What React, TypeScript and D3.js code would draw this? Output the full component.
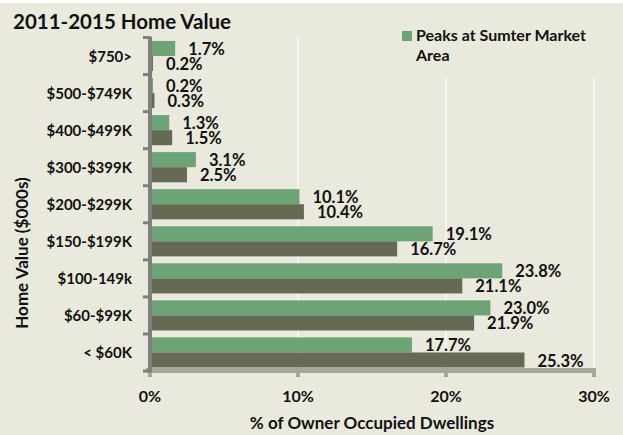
import React from "react";
import * as d3 from "d3";

const categories = ["$750>", "$500-$749K", "$400-$499K", "$300-$399K", "$200-$299K", "$150-$199K", "$100-149k", "$60-$99K", "< $60K"];
const peaksValues = [1.7, 0.2, 1.3, 3.1, 10.1, 19.1, 23.8, 23.0, 17.7];
const otherValues = [0.2, 0.3, 1.5, 2.5, 10.4, 16.7, 21.1, 21.9, 25.3];
const xTicks = [0, 10, 20, 30];
const seriesNames = ["Peaks at Sumter Market Area", "Comparison"];

const W = 623;
const H = 435;
const BG = "#e9e9dd";
const GREEN = "#6ca476";
const DARK = "#666a54";
const FONT = "Lato, 'Open Sans', sans-serif";

export default function App() {
  const x = d3.scaleLinear().domain([0, 30]).range([150, 594]);
  const y = d3.scaleBand<string>().domain(categories).range([37.5, 371]).padding(0);
  const inner = d3.scaleBand<string>().domain(seriesNames).range([0, y.bandwidth()]).paddingInner(0).paddingOuter(0.23);
  const bh = inner.bandwidth();
  const series = [
    { name: seriesNames[0], values: peaksValues, color: GREEN },
    { name: seriesNames[1], values: otherValues, color: DARK },
  ];
  const boundaries = categories.map((c) => y(c) as number).concat([y.range()[1]]);
  const plotTop = y.range()[0];
  const plotBottom = y.range()[1];

  return (
    <svg width={W} height={H} style={{ position: "absolute", left: 0, top: 0 }} fontFamily={FONT}>
      <rect x={0} y={0} width={W} height={H} fill={BG} />
      <rect x={0} y={0} width={W} height={3} fill="#ffffff" />
      {/* gridlines */}
      {xTicks.filter((t) => t > 0).map((t) => (
        <line key={"g" + t} x1={x(t)} x2={x(t)} y1={plotTop} y2={plotBottom} stroke="#ffffff" strokeWidth={1.2} />
      ))}
      {/* legend box covering gridlines */}
      <rect x={392} y={18} width={228} height={60} fill={BG} />
      <rect x={402} y={31} width={10} height={10} fill={GREEN} />
      <text x={416} y={40.5} fontSize={16} fontWeight={700} fill="#111">Peaks at Sumter Market</text>
      <text x={416} y={60.5} fontSize={16} fontWeight={700} fill="#111">Area</text>
      {/* title */}
      <text x={13} y={28.5} fontSize={20.5} fontWeight={700} fill="#111">2011-2015 Home Value</text>
      {/* bars */}
      {series.map((s) =>
        s.values.map((v, i) => {
          const yy = (y(categories[i]) as number) + (inner(s.name) as number);
          return (
            <g key={s.name + i}>
              <rect x={x(0)} y={yy} width={x(v) - x(0)} height={bh} fill={s.color} />
            </g>
          );
        })
      )}
      {/* x axis */}
      <line x1={146} x2={596} y1={370.5} y2={370.5} stroke="#a7a795" strokeWidth={5} />
      {xTicks.map((t) => (
        <line key={"xt" + t} x1={x(t)} x2={x(t)} y1={370} y2={377} stroke="#a7a795" strokeWidth={4} />
      ))}
      {xTicks.map((t) => (
        <text key={"xl" + t} x={x(t)} y={401.5} textAnchor="middle" fontSize={16} fontWeight={700} fill="#111">
          {t + "%"}
        </text>
      ))}
      {/* y axis */}
      <line x1={150} x2={150} y1={plotTop - 1} y2={plotBottom + 1.5} stroke="#808080" strokeWidth={4} />
      {boundaries.map((b, i) => (
        <line key={"yt" + i} x1={143} x2={150} y1={b} y2={b} stroke="#808080" strokeWidth={3} />
      ))}
      {categories.map((c) => (
        <text key={"yl" + c} x={132} y={(y(c) as number) + y.bandwidth() / 2 + 5.5} textAnchor="end" fontSize={15} fontWeight={700} fill="#111">
          {c}
        </text>
      ))}
      {/* value labels */}
      {series.map((s) =>
        s.values.map((v, i) => {
          const yy = (y(categories[i]) as number) + (inner(s.name) as number) + bh / 2;
          return (
            <text key={"vl" + s.name + i} x={x(v) + 13} y={yy + 6.5} fontSize={16.5} fontWeight={700} fill="#111">
              {v.toFixed(1) + "%"}
            </text>
          );
        })
      )}
      {/* axis titles */}
      <text x={x(15)} y={429} textAnchor="middle" fontSize={17} fontWeight={700} fill="#111">% of Owner Occupied Dwellings</text>
      <text transform="translate(28,253) rotate(-90)" textAnchor="middle" fontSize={17} fontWeight={700} fill="#111">Home Value ($000s)</text>
    </svg>
  );
}
